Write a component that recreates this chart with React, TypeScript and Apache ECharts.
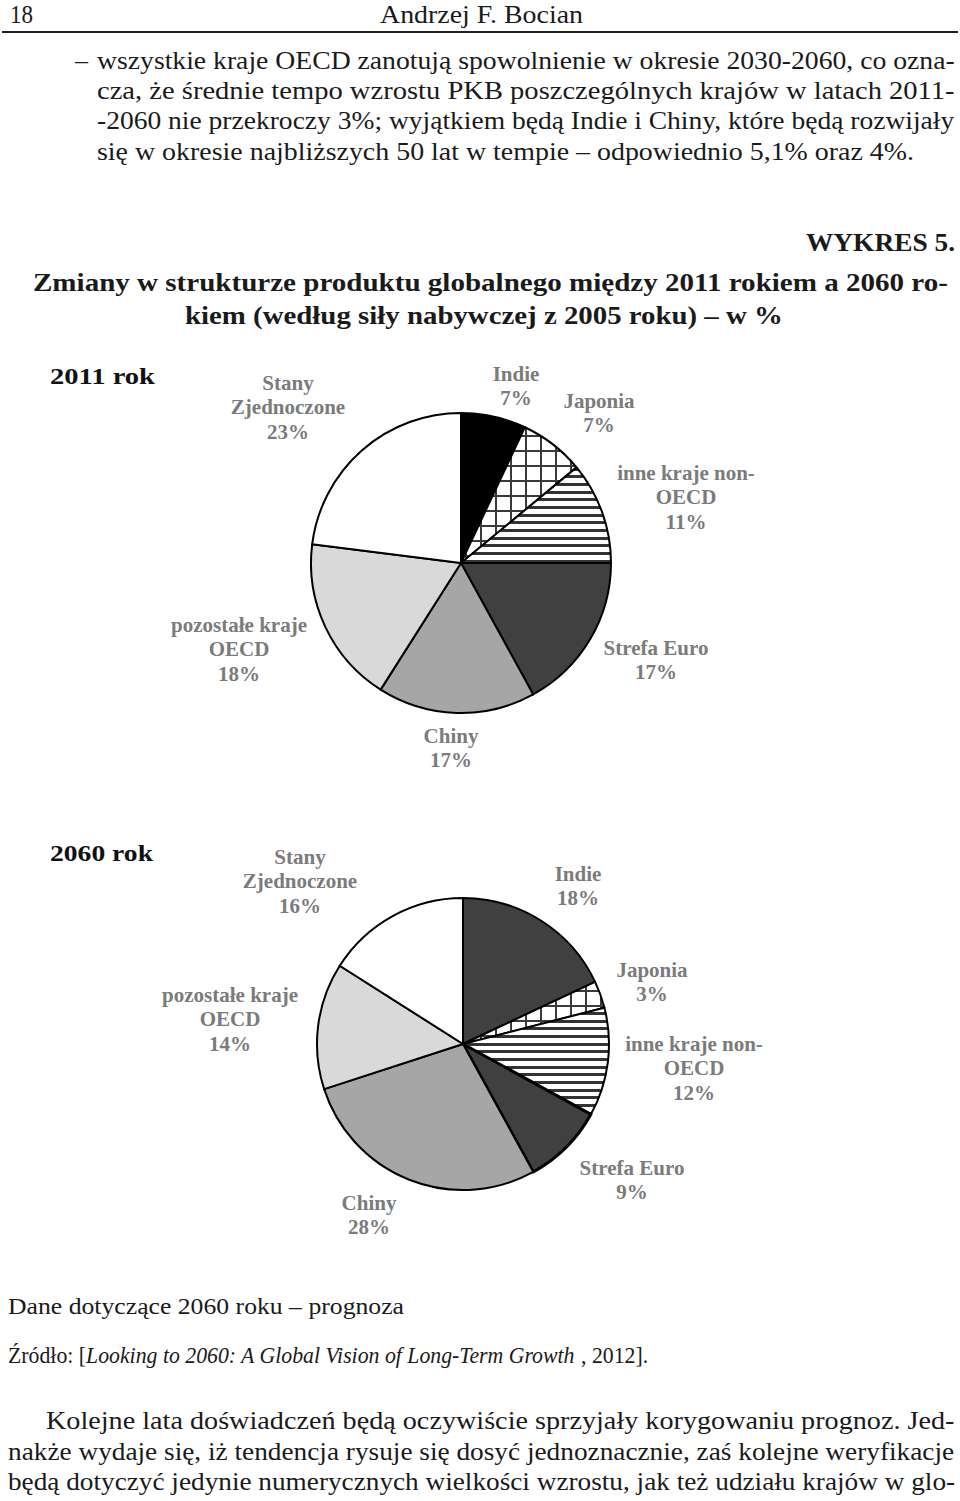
import React, { useEffect, useRef } from 'react';
import * as echarts from 'echarts';

// ---------- data ----------
const categories = ['Indie', 'Japonia', 'inne kraje non-OECD', 'Strefa Euro', 'Chiny', 'pozostałe kraje OECD', 'Stany Zjednoczone'];
const labelNames = ['Indie', 'Japonia', 'inne kraje non-\nOECD', 'Strefa Euro', 'Chiny', 'pozostałe kraje\nOECD', 'Stany\nZjednoczone'];
const values2011 = [7, 7, 11, 17, 17, 18, 23];
const values2060 = [18, 3, 12, 9, 28, 14, 16];
const yearLabels = ['2011 rok', '2060 rok'];

const headerPage = '18';
const headerAuthor = 'Andrzej F. Bocian';
const bulletLines = [
  'wszystkie kraje OECD zanotują spowolnienie w okresie 2030-2060, co ozna-',
  'cza, że średnie tempo wzrostu PKB poszczególnych krajów w latach 2011-',
  '-2060 nie przekroczy 3%; wyjątkiem będą Indie i Chiny, które będą rozwijały',
  'się w okresie najbliższych 50 lat w tempie – odpowiednio 5,1% oraz 4%.',
];
const chartNo = 'WYKRES 5.';
const titleLines = [
  'Zmiany w strukturze produktu globalnego między 2011 rokiem a 2060 ro-',
  'kiem (według siły nabywczej z 2005 roku) – w %',
];
const noteText = 'Dane dotyczące 2060 roku – prognoza';
const sourceParts = ['Źródło: [', 'Looking to 2060: A Global Vision of Long-Term Growth', ' , 2012].'];
const paragraphLines = [
  'Kolejne lata doświadczeń będą oczywiście sprzyjały korygowaniu prognoz. Jed-',
  'nakże wydaje się, iż tendencja rysuje się dosyć jednoznacznie, zaś kolejne weryfikacje',
  'będą dotyczyć jedynie numerycznych wielkości wzrostu, jak też udziału krajów w glo-',
];

// ---------- layout / style ----------
const FONT = '"Liberation Serif", "DejaVu Serif", serif';
const INK = '#1a1a1a';
const LABEL = '#7b7b7b';
const fills2011 = ['#000000', 'grid', 'stripes', '#404040', '#a6a6a6', '#d9d9d9', '#ffffff'];
const fills2060 = ['#404040', 'grid', 'stripes', '#404040', '#a6a6a6', '#d9d9d9', '#ffffff'];
const labelPos2011 = [[516, 386], [599, 413], [686, 497], [656, 660], [451, 748], [239, 649], [288, 407]];
const labelPos2060 = [[578, 886], [652, 982], [694, 1068], [632, 1180], [369, 1215], [230, 1019], [300, 881]];

function makeStripes() {
  const c = document.createElement('canvas');
  c.width = 8; c.height = 23;
  const g = c.getContext('2d')!;
  g.fillStyle = '#ffffff'; g.fillRect(0, 0, 8, 23);
  g.fillStyle = '#333333';
  for (let i = 0; i < 3; i++) g.fillRect(0, Math.round((i * 23) / 3), 8, 3);
  return c;
}
function makeGrid() {
  const c = document.createElement('canvas');
  c.width = 15; c.height = 15;
  const g = c.getContext('2d')!;
  g.fillStyle = '#ffffff'; g.fillRect(0, 0, 15, 15);
  g.fillStyle = '#3a3a3a';
  g.fillRect(0, 0, 15, 2);
  g.fillRect(0, 0, 2, 15);
  return c;
}

export default function App() {
  const ref = useRef<HTMLDivElement>(null);
  useEffect(() => {
    const el = ref.current!;
    const chart = echarts.init(el, null, { renderer: 'svg' });
    const mc = document.createElement('canvas').getContext('2d')!;
    const fontStr = (size: number, weight = 'normal', style = 'normal') => `${style} ${weight} ${size}px ${FONT}`;
    const measure = (t: string, font: string) => { mc.font = font; return mc.measureText(t).width; };

    const stripeC = makeStripes();
    const gridC = makeGrid();
    const stripePat: any = { image: stripeC, repeat: 'repeat', imageWidth: stripeC.width, imageHeight: stripeC.height };
    const gridPat: any = { image: gridC, repeat: 'repeat', imageWidth: gridC.width, imageHeight: gridC.height };
    const fillOf = (f: string) => (f === 'grid' ? gridPat : f === 'stripes' ? stripePat : f);

    const els: any[] = [];
    const put = (text: string, x0: number, scale: number, y: number, size: number, weight = 'normal', fill = INK) => {
      els.push({
        type: 'text', x: x0, y, scaleX: scale, silent: true,
        style: { text, font: fontStr(size, weight), fill, textAlign: 'left', textVerticalAlign: 'middle', align: 'left', verticalAlign: 'middle' },
      });
    };
    const fit = (text: string, x0: number, x1: number, y: number, size: number, weight = 'normal', fill = INK) => {
      const s = (x1 - x0) / measure(text, fontStr(size, weight));
      put(text, x0, s, y, size, weight, fill);
      return s;
    };
    const label = (text: string, cx: number, cy: number) => {
      els.push({
        type: 'text', x: cx, y: cy, silent: true,
        style: {
          text, font: fontStr(21, 'bold'), fill: LABEL, lineHeight: 24.5,
          textAlign: 'center', textVerticalAlign: 'middle', align: 'center', verticalAlign: 'middle',
        },
      });
    };

    const BODY = 26;
    // header
    fit(headerPage, 10, 33, 14, 26);
    fit(headerAuthor, 380, 583, 14, 26);
    els.push({ type: 'line', silent: true, shape: { x1: 2, y1: 32, x2: 958, y2: 32 }, style: { stroke: '#222', lineWidth: 2 } });

    // bullet paragraph
    fit('–', 75, 88, 60, BODY);
    const bulletY = [60, 90, 120, 151];
    const sc: number[] = [];
    for (let i = 0; i < 3; i++) sc.push(fit(bulletLines[i], 97, 955, bulletY[i], BODY));
    const avg = (sc[0] + sc[1] + sc[2]) / 3;
    put(bulletLines[3], 97, avg, bulletY[3], BODY);

    // title
    fit(chartNo, 806, 955, 243, 25, 'bold');
    fit(titleLines[0], 33, 948, 283, 25, 'bold');
    fit(titleLines[1], 185, 783, 316, 25, 'bold');

    // year labels
    fit(yearLabels[0], 50, 155, 376, 24, 'bold', '#111');
    fit(yearLabels[1], 50, 153, 853, 24, 'bold', '#111');

    // pie labels
    values2011.forEach((v, i) => label(`${labelNames[i]}\n${v}%`, labelPos2011[i][0], labelPos2011[i][1]));
    values2060.forEach((v, i) => label(`${labelNames[i]}\n${v}%`, labelPos2060[i][0], labelPos2060[i][1]));

    // footer
    fit(noteText, 8, 404, 1306, 24);
    {
      const size = 24;
      const wN1 = measure(sourceParts[0], fontStr(size));
      const wI = measure(sourceParts[1], fontStr(size, 'normal', 'italic'));
      const wN2 = measure(sourceParts[2], fontStr(size));
      const total = wN1 + wI + wN2;
      els.push({
        type: 'text', x: 8, y: 1355, scaleX: (648 - 8) / total, silent: true,
        style: {
          text: `{n|${sourceParts[0]}}{i|${sourceParts[1]}}{n|${sourceParts[2]}}`,
          rich: {
            n: { font: fontStr(size), fontSize: size, fontFamily: FONT, fill: INK, color: INK },
            i: { font: fontStr(size, 'normal', 'italic'), fontSize: size, fontFamily: FONT, fontStyle: 'italic', fill: INK, color: INK },
          },
          font: fontStr(size), fill: INK,
          textAlign: 'left', textVerticalAlign: 'middle', align: 'left', verticalAlign: 'middle',
        },
      });
    }
    const paraX0 = [46, 8, 8];
    const paraY = [1420, 1451, 1481];
    paragraphLines.forEach((t, i) => fit(t, paraX0[i], 955, paraY[i], BODY));

    const mkData = (vals: number[], fills: string[], thick?: number) =>
      vals.map((v, i) => ({
        name: categories[i], value: v,
        itemStyle: { color: fillOf(fills[i]), borderColor: '#000', borderWidth: thick === i ? 3 : 2 },
      }));

    const pieCommon: any = {
      type: 'pie', startAngle: 90, clockwise: true, silent: true,
      label: { show: false }, labelLine: { show: false },
      emphasis: { disabled: true }, avoidLabelOverlap: false,
    };

    chart.setOption({
      animation: false,
      backgroundColor: '#ffffff',
      series: [
        { ...pieCommon, name: '2011', center: [461, 563], radius: 150, data: mkData(values2011, fills2011) },
        { ...pieCommon, name: '2060', center: [463, 1044], radius: 146, data: mkData(values2060, fills2060, 3) },
      ],
      graphic: { elements: els },
    });
    return () => chart.dispose();
  }, []);
  return <div ref={ref} style={{ position: 'absolute', left: 0, top: 0, width: 960, height: 1501 }} />;
}
